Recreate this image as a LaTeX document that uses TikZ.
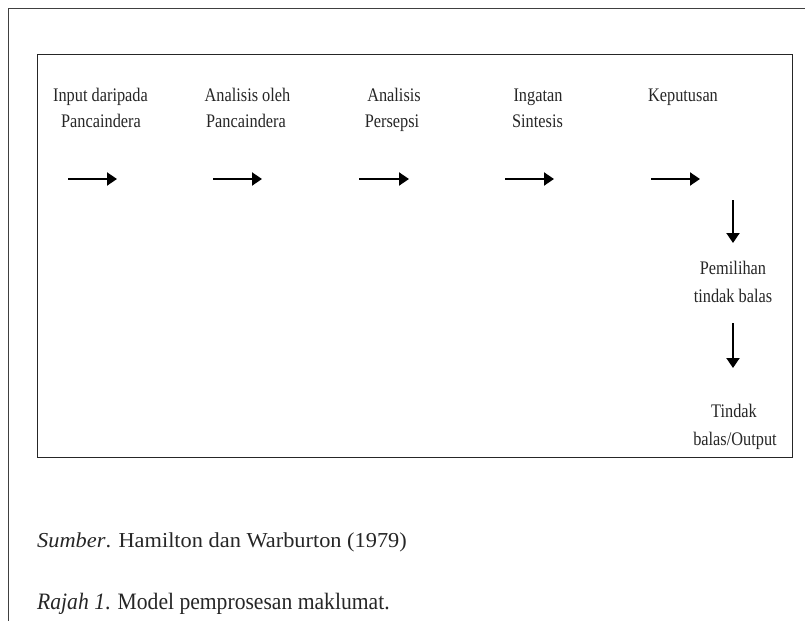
\documentclass[tikz,border=0pt]{standalone}
\usepackage{fontspec}
\setmainfont{Liberation Serif}
\newfontfamily\diagfont[FakeStretch=0.85]{Liberation Serif}
\newfontfamily\capfont[FakeStretch=1.05]{Liberation Serif}
\newfontfamily\titlefont[FakeStretch=0.92]{Liberation Serif}
\usetikzlibrary{arrows.meta}
\begin{document}
\begin{tikzpicture}[x=1pt,y=-1pt,
  lbl/.style={font=\diagfont\fontsize{19.2}{22}\selectfont, inner sep=0pt, anchor=base, text=black!85},
  flow/.style={line width=2pt, -{Triangle[length=10pt,width=13pt]}},
  caption/.style={inner sep=0pt, anchor=base west, text=black!85}]
\useasboundingbox (0,0) rectangle (809,621);
% outer frame (top and left)
\coordinate (ob) at (8,621);
\coordinate (otl) at (8,8);
\coordinate (otr) at (805,8);
\draw[line width=1pt, black!75] (ob) -- (otl) -- (otr);
% inner box
\coordinate (ibtl) at (37,54);
\coordinate (ibbr) at (792,457);
\draw[line width=1pt, black!85] (ibtl) rectangle (ibbr);
% labels
\node[lbl] (l1a) at (100.5,101) {Input daripada};
\node[lbl] (l1b) at (101,127) {Pancaindera};
\node[lbl] (l2a) at (247.5,101) {Analisis oleh};
\node[lbl] (l2b) at (246,127) {Pancaindera};
\node[lbl] (l3a) at (394,101) {Analisis};
\node[lbl] (l3b) at (392,127) {Persepsi};
\node[lbl] (l4a) at (538,101) {Ingatan};
\node[lbl] (l4b) at (537.5,127) {Sintesis};
\node[lbl] (l5a) at (683,101) {Keputusan};
\node[lbl] (l6a) at (733,274) {Pemilihan};
\node[lbl] (l6b) at (733,302) {tindak balas};
\node[lbl] (l7a) at (734,417) {Tindak};
\node[lbl] (l7b) at (735,445) {balas/Output};
% horizontal arrows
\coordinate (h1s) at (68,179);  \coordinate (h1e) at (117,179);
\coordinate (h2s) at (213,179); \coordinate (h2e) at (262,179);
\coordinate (h3s) at (359,179); \coordinate (h3e) at (409,179);
\coordinate (h4s) at (505,179); \coordinate (h4e) at (554,179);
\coordinate (h5s) at (651,179); \coordinate (h5e) at (700,179);
\draw[flow] (h1s) -- (h1e);
\draw[flow] (h2s) -- (h2e);
\draw[flow] (h3s) -- (h3e);
\draw[flow] (h4s) -- (h4e);
\draw[flow] (h5s) -- (h5e);
% vertical arrows
\coordinate (v1s) at (733,200); \coordinate (v1e) at (733,243);
\coordinate (v2s) at (733,323); \coordinate (v2e) at (733,368);
\draw[flow] (v1s) -- (v1e);
\draw[flow] (v2s) -- (v2e);
% captions
\node[caption, font=\capfont\fontsize{21.3}{24}\selectfont] (src) at (37,547) {\textit{Sumber}. Hamilton dan Warburton (1979)};
\node[caption, font=\titlefont\fontsize{23.5}{28}\selectfont] (cap) at (37,609) {\textit{Rajah 1}. Model pemprosesan maklumat.};
\end{tikzpicture}
\end{document}
